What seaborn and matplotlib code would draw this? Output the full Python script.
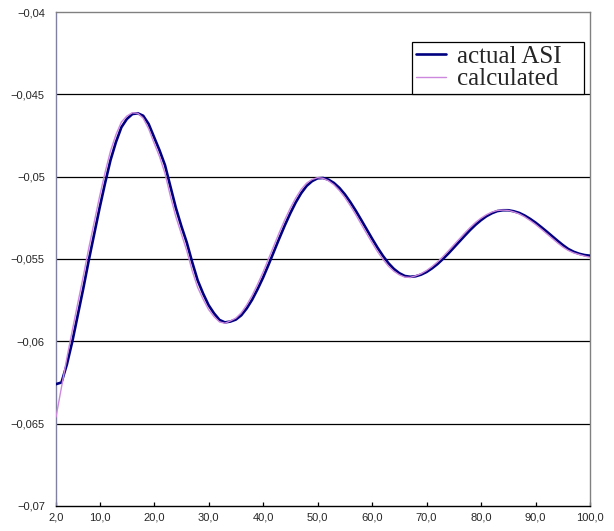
import numpy as np
import pandas as pd
import matplotlib as mpl
mpl.use("Agg")
import matplotlib.pyplot as plt
import seaborn as sns
from matplotlib.ticker import FuncFormatter

# ------------------------------------------------------------
# Data (one value per unit of x)
# ------------------------------------------------------------
X_VALUES = list(range(2, 101))

ACTUAL_ASI = [
    -0.0626, -0.0625, -0.0614, -0.0600, -0.0584, -0.0568, -0.0551, -0.0535,
    -0.0519, -0.0504, -0.0490, -0.0479, -0.0470, -0.0465, -0.0462, -0.04615,
    -0.0463, -0.0468, -0.0476, -0.0484, -0.0493, -0.0506, -0.0519, -0.0530,
    -0.0540, -0.0552, -0.0563, -0.0571, -0.0578, -0.0583, -0.0587, -0.05885,
    -0.0588, -0.05868, -0.05842, -0.05800, -0.05747, -0.05683, -0.05613,
    -0.05535, -0.05454, -0.05373, -0.05295, -0.05222, -0.05156, -0.05100,
    -0.05056, -0.05027, -0.05010, -0.05008, -0.05018, -0.05038, -0.05068,
    -0.05107, -0.05154, -0.05206, -0.05262, -0.05319, -0.05376, -0.05431,
    -0.05481, -0.05525, -0.05560, -0.05586, -0.05603, -0.05608, -0.05605,
    -0.05595, -0.05579, -0.05557, -0.05531, -0.05500, -0.05467, -0.05431,
    -0.05395, -0.05359, -0.05324, -0.05292, -0.05264, -0.05240, -0.05222,
    -0.05209, -0.05204, -0.05204, -0.05210, -0.05220, -0.05236, -0.05256,
    -0.05279, -0.05305, -0.05332, -0.05360, -0.05388, -0.05415, -0.05439,
    -0.05456, -0.05468, -0.05476, -0.05480,
]

CALCULATED = [
    -0.0646, -0.0628, -0.0610, -0.05932, -0.05768, -0.05606, -0.05436,
    -0.05278, -0.05120, -0.04975, -0.04844, -0.04745, -0.04668, -0.04632,
    -0.04612, -0.04615, -0.04645, -0.04709, -0.04796, -0.04878, -0.04980,
    -0.05119, -0.05244, -0.05347, -0.05450, -0.05572, -0.05673, -0.05744,
    -0.05807, -0.05850, -0.05882, -0.05890, -0.05876, -0.05859, -0.05827,
    -0.05779, -0.05721, -0.05653, -0.05580, -0.05499, -0.05418, -0.05337,
    -0.05261, -0.05191, -0.05129, -0.05077, -0.05039, -0.05017, -0.05006,
    -0.05010, -0.05025, -0.05049, -0.05084, -0.05126, -0.05176, -0.05230,
    -0.05288, -0.05345, -0.05401, -0.05455, -0.05502, -0.05543, -0.05574,
    -0.05596, -0.05610, -0.05612, -0.05602, -0.05589, -0.05570, -0.05546,
    -0.05518, -0.05486, -0.05451, -0.05415, -0.05379, -0.05343, -0.05309,
    -0.05278, -0.05252, -0.05231, -0.05215, -0.05205, -0.05203, -0.05205,
    -0.05214, -0.05226, -0.05244, -0.05266, -0.05290, -0.05317, -0.05345,
    -0.05373, -0.05401, -0.05427, -0.05448, -0.05463, -0.05473, -0.05482,
    -0.05490,
]

X_TICKS = [2, 10, 20, 30, 40, 50, 60, 70, 80, 90, 100]
Y_TICKS = [-0.07, -0.065, -0.06, -0.055, -0.05, -0.045, -0.04]

df = pd.DataFrame({"x": X_VALUES, "actual": ACTUAL_ASI, "calc": CALCULATED})

# ------------------------------------------------------------
# Plot
# ------------------------------------------------------------
sns.set_theme(style="white")
plt.rcParams["font.family"] = ["Liberation Sans", "DejaVu Sans"]

fig = plt.figure(figsize=(6.14, 5.31), dpi=100)
ax = fig.add_axes([0.0912, 0.0471, 0.8697, 0.9303])

# horizontal gridlines at every major tick
for yv in Y_TICKS[1:-1]:
    ax.axhline(yv, color="black", lw=0.9, zorder=1)

sns.lineplot(data=df, x="x", y="actual", ax=ax, color="#000080",
             lw=1.9, label="actual ASI", zorder=3)
sns.lineplot(data=df, x="x", y="calc", ax=ax, color="#CC88DD",
             lw=1.0, label="calculated", zorder=4)

ax.set_xlim(2, 100)
ax.set_ylim(-0.07, -0.04)
ax.set_xticks(X_TICKS)
ax.set_yticks(Y_TICKS)

ax.xaxis.set_major_formatter(FuncFormatter(lambda v, _: f"{v:.1f}".replace(".", ",")))
ax.yaxis.set_major_formatter(
    FuncFormatter(lambda v, _: f"{v:g}".replace(".", ",").replace("-", "\u2212")))

ax.tick_params(axis="x", direction="in", length=3, width=0.9, color="black",
               labelsize=8, pad=5, bottom=True)
ax.tick_params(axis="y", length=0, labelsize=8, pad=8, left=False)

ax.set_xlabel("")
ax.set_ylabel("")

for side, col in [("left", "#8080A0"), ("top", "#808080"),
                  ("right", "#808080"), ("bottom", "black")]:
    ax.spines[side].set_visible(True)
    ax.spines[side].set_color(col)
    ax.spines[side].set_linewidth(1.0)

# legend box stretched to the reference width
leg = ax.legend(loc="upper left", bbox_to_anchor=(0.667, 0.94, 0.322, 0.0),
                mode="expand", borderaxespad=0, frameon=True, fancybox=False,
                framealpha=1, edgecolor="black",
                prop={"family": "Liberation Serif", "size": 18},
                handlelength=1.2, handletextpad=0.45, labelspacing=0.0,
                borderpad=0.15)
leg.get_frame().set_linewidth(0.9)

fig.savefig("out.png", dpi=100)
plt.close(fig)
